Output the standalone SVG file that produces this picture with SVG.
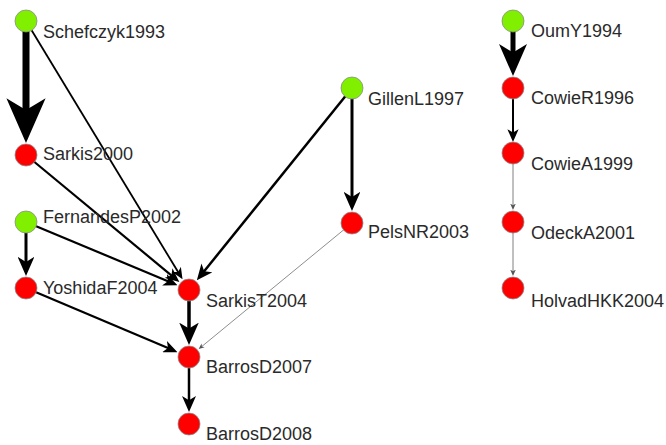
<svg xmlns="http://www.w3.org/2000/svg" width="666" height="445" viewBox="0 0 666 445">
<style>
.e{fill:none;stroke:#000;marker-end:url(#ah)}
.g{fill:none;stroke:#808080;marker-end:url(#ahg)}
.src{fill:#80f000;stroke:#8a8a8a;stroke-width:0.8}
.tgt{fill:#ff0000;stroke:#8a8a8a;stroke-width:0.8}
text{font-family:"Liberation Sans",Arial,sans-serif;font-size:18px;fill:#2a2a2a}
</style>
<defs>
<marker id="ah" viewBox="0 0 6.4 5.6" refX="2.0" refY="2.8" markerWidth="6.4" markerHeight="5.6" markerUnits="strokeWidth" orient="auto">
<path d="M0,0 L6.4,2.8 L0,5.6 L1.7,2.8 Z" fill="#000"/>
</marker>
<marker id="ahg" viewBox="0 0 6.4 5.6" refX="2.0" refY="2.8" markerWidth="6.4" markerHeight="5.6" markerUnits="strokeWidth" orient="auto">
<path d="M0,0 L6.4,2.8 L0,5.6 L1.7,2.8 Z" fill="#555"/>
</marker>
</defs>
<g id="connectors">
<line class="e" x1="26" y1="21" x2="26" y2="112.2" stroke-width="7"/>
<line class="e" x1="26" y1="21" x2="178.42" y2="272.54" stroke-width="1.8"/>
<line class="e" x1="26" y1="155" x2="171.91" y2="275.84" stroke-width="2.2"/>
<line class="e" x1="26" y1="222" x2="168.53" y2="281.46" stroke-width="2.2"/>
<line class="e" x1="26" y1="222" x2="26" y2="262.8" stroke-width="3"/>
<line class="e" x1="26" y1="288" x2="168.58" y2="348.36" stroke-width="2.2"/>
<line class="e" x1="352" y1="88" x2="203.76" y2="271.71" stroke-width="2.5"/>
<line class="e" x1="352" y1="88" x2="352" y2="197.8" stroke-width="3"/>
<line class="g" x1="352" y1="223" x2="201.72" y2="346.55" stroke-width="0.9"/>
<line class="e" x1="189" y1="290" x2="189" y2="329.6" stroke-width="3.5"/>
<line class="e" x1="189" y1="357" x2="189" y2="401" stroke-width="2.5"/>
<line class="e" x1="513" y1="21" x2="513" y2="54" stroke-width="5"/>
<line class="e" x1="513" y1="88" x2="513" y2="133.2" stroke-width="2"/>
<line class="g" x1="513" y1="153" x2="513" y2="205.6" stroke-width="1"/>
<line class="g" x1="513" y1="222" x2="513" y2="271.6" stroke-width="1"/>
</g>
<g id="Schefczyk1993"><circle class="src" cx="26" cy="21" r="11"/><text x="43" y="38">Schefczyk1993</text></g>
<g id="Sarkis2000"><circle class="tgt" cx="26" cy="155" r="11"/><text x="43" y="160">Sarkis2000</text></g>
<g id="FernandesP2002"><circle class="src" cx="26" cy="222" r="11"/><text x="43" y="223">FernandesP2002</text></g>
<g id="YoshidaF2004"><circle class="tgt" cx="26" cy="288" r="11"/><text x="43" y="294">YoshidaF2004</text></g>
<g id="SarkisT2004"><circle class="tgt" cx="189" cy="290" r="11"/><text x="206" y="307">SarkisT2004</text></g>
<g id="BarrosD2007"><circle class="tgt" cx="189" cy="357" r="11"/><text x="206" y="373">BarrosD2007</text></g>
<g id="BarrosD2008"><circle class="tgt" cx="189" cy="424" r="11"/><text x="206" y="440">BarrosD2008</text></g>
<g id="GillenL1997"><circle class="src" cx="352" cy="88" r="11"/><text x="368" y="105">GillenL1997</text></g>
<g id="PelsNR2003"><circle class="tgt" cx="352" cy="223" r="11"/><text x="368" y="238">PelsNR2003</text></g>
<g id="OumY1994"><circle class="src" cx="513" cy="21" r="11"/><text x="531" y="37">OumY1994</text></g>
<g id="CowieR1996"><circle class="tgt" cx="513" cy="88" r="11"/><text x="531" y="104">CowieR1996</text></g>
<g id="CowieA1999"><circle class="tgt" cx="513" cy="153" r="11"/><text x="531" y="170">CowieA1999</text></g>
<g id="OdeckA2001"><circle class="tgt" cx="513" cy="222" r="11"/><text x="531" y="239">OdeckA2001</text></g>
<g id="HolvadHKK2004"><circle class="tgt" cx="513" cy="288" r="11"/><text x="531" y="307">HolvadHKK2004</text></g>
</svg>
